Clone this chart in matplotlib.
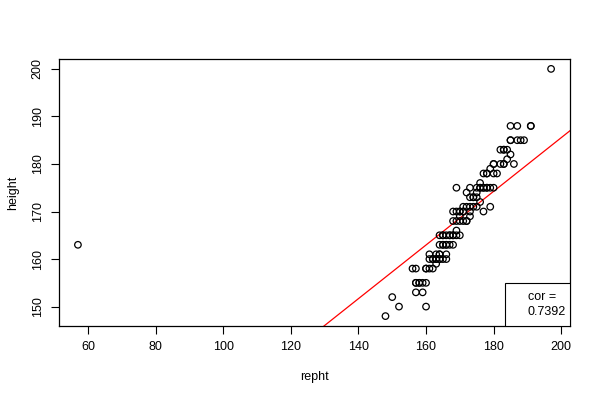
import numpy as np
import matplotlib
matplotlib.use("Agg")
import matplotlib.pyplot as plt

plt.rcParams['font.family'] = ['Liberation Sans', 'DejaVu Sans']

repht = [57, 148, 150, 152, 160,
         157, 159,
         157, 158, 159, 160, 157, 158,
         156, 157, 160, 161, 162, 160,
         163,
         161, 162, 163, 164, 165, 166, 162, 163, 164,
         161, 163, 164, 166, 164,
         164, 165, 166, 167, 168, 165, 166,
         164, 165, 166, 167, 168, 169, 170, 165, 167, 168,
         169,
         168, 169, 171, 172, 170, 172,
         170, 173,
         168, 169, 170, 171, 173, 177, 170, 171,
         171, 172, 174, 175, 179, 173,
         176,
         173, 174, 175, 174,
         172, 175,
         169, 173, 175, 176, 177, 178, 179, 180, 176, 177, 178,
         176,
         177, 178, 180, 181, 178,
         179,
         180, 182, 183, 186, 180, 183,
         184,
         185,
         182, 183, 184, 183,
         185, 185, 187, 188, 189,
         185, 187, 191, 191,
         197]
height = [163, 148, 152, 150, 150,
          153, 153,
          155, 155, 155, 155, 155, 155,
          158, 158, 158, 158, 158, 158,
          159,
          160, 160, 160, 160, 160, 160, 160, 160, 160,
          161, 161, 161, 161, 161,
          163, 163, 163, 163, 163, 163, 163,
          165, 165, 165, 165, 165, 165, 165, 165, 165, 165,
          166,
          168, 168, 168, 168, 168, 168,
          169, 169,
          170, 170, 170, 170, 170, 170, 170, 170,
          171, 171, 171, 171, 171, 171,
          172,
          173, 173, 173, 173,
          174, 174,
          175, 175, 175, 175, 175, 175, 175, 175, 175, 175, 175,
          176,
          178, 178, 178, 178, 178,
          179,
          180, 180, 180, 180, 180, 180,
          181,
          182,
          183, 183, 183, 183,
          185, 185, 185, 185, 185,
          188, 188, 188, 188,
          200]

# fitted line (intercept, slope) as drawn in the reference
fit_intercept = 72.67
fit_slope = 0.5643
cor_text = "cor =\n0.7392"

x_ticks = [60, 80, 100, 120, 140, 160, 180, 200]
y_ticks = [150, 160, 170, 180, 190, 200]

fig = plt.figure(figsize=(6, 4), dpi=100)
ax = fig.add_axes([59 / 600, 74 / 400, 511 / 600, 267 / 400])

ax.scatter(repht, height, s=22, facecolors='none', edgecolors='black',
           linewidths=0.9, zorder=3)
ax.axline((0, fit_intercept), slope=fit_slope, color='red', linewidth=0.9,
          zorder=2)

# R style 4% padding around the data range
xr = max(repht) - min(repht)
yr = max(height) - min(height)
ax.set_xlim(min(repht) - 0.04 * xr, max(repht) + 0.04 * xr)
ax.set_ylim(min(height) - 0.04 * yr, max(height) + 0.04 * yr)

ax.set_xticks(x_ticks)
ax.set_yticks(y_ticks)
ax.set_yticklabels([str(v) for v in y_ticks], rotation=90, va='center')
ax.tick_params(direction='out', length=6, width=0.8, labelsize=9, pad=5)
for sp in ax.spines.values():
    sp.set_linewidth(0.9)

ax.set_xlabel('repht', fontsize=9, labelpad=13)
ax.set_ylabel('height', fontsize=9, labelpad=9)

# legend box in the lower right corner
ax.text(0.917, 0.03, cor_text, transform=ax.transAxes, fontsize=9,
        ha='left', va='bottom', linespacing=1.3, zorder=5)
ax.add_patch(plt.Rectangle((0.873, 0.0), 0.127, 0.16, transform=ax.transAxes,
                           facecolor='white', edgecolor='black',
                           linewidth=0.8, zorder=4))

fig.savefig('out.png', dpi=100)
